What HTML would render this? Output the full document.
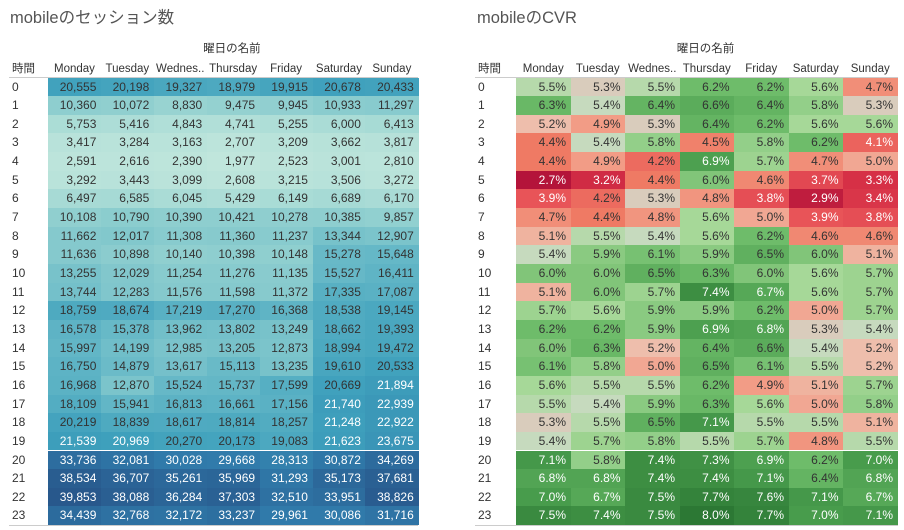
<!DOCTYPE html><html><head><meta charset="utf-8"><style>
body{margin:0;width:904px;height:530px;background:#fff;position:relative;overflow:hidden;font-family:"Liberation Sans","Noto Sans CJK JP",sans-serif;color:#333}
.a{position:absolute;white-space:nowrap}
.t{font-size:16.5px;color:#555;top:8px;line-height:20px}
.h{font-size:11.5px;color:#333;line-height:14px}
.c{font-size:12px;text-align:right;box-sizing:border-box;padding-right:5px;line-height:18.65px;height:18.65px}
</style></head><body>
<div class="a t" style="left:10px">mobileのセッション数</div>
<div class="a t" style="left:477px">mobileのCVR</div>
<div id="r"></div>
<script>
const S=[[20555,20198,19327,18979,19915,20678,20433],[10360,10072,8830,9475,9945,10933,11297],[5753,5416,4843,4741,5255,6000,6413],[3417,3284,3163,2707,3209,3662,3817],[2591,2616,2390,1977,2523,3001,2810],[3292,3443,3099,2608,3215,3506,3272],[6497,6585,6045,5429,6149,6689,6170],[10108,10790,10390,10421,10278,10385,9857],[11662,12017,11308,11360,11237,13344,12907],[11636,10898,10140,10398,10148,15278,15648],[13255,12029,11254,11276,11135,15527,16411],[13744,12283,11576,11598,11372,17335,17087],[18759,18674,17219,17270,16368,18538,19145],[16578,15378,13962,13802,13249,18662,19393],[15997,14199,12985,13205,12873,18994,19472],[16750,14879,13617,15113,13235,19610,20533],[16968,12870,15524,15737,17599,20669,21894],[18109,15941,16813,16661,17156,21740,22939],[20219,18839,18617,18814,18257,21248,22922],[21539,20969,20270,20173,19083,21623,23675],[33736,32081,30028,29668,28313,30872,34269],[38534,36707,35261,35969,31293,35173,37681],[39853,38088,36284,37303,32510,33951,38826],[34439,32768,32172,33237,29961,30086,31716]];
const C=[[5.5,5.3,5.5,6.2,6.2,5.6,4.7],[6.3,5.4,6.4,6.6,6.4,5.8,5.3],[5.2,4.9,5.3,6.4,6.2,5.6,5.6],[4.4,5.4,5.8,4.5,5.8,6.2,4.1],[4.4,4.9,4.2,6.9,5.7,4.7,5.0],[2.7,3.2,4.4,6.0,4.6,3.7,3.3],[3.9,4.2,5.3,4.8,3.8,2.9,3.4],[4.7,4.4,4.8,5.6,5.0,3.9,3.8],[5.1,5.5,5.4,5.6,6.2,4.6,4.6],[5.4,5.9,6.1,5.9,6.5,6.0,5.1],[6.0,6.0,6.5,6.3,6.0,5.6,5.7],[5.1,6.0,5.7,7.4,6.7,5.6,5.7],[5.7,5.6,5.9,5.9,6.2,5.0,5.7],[6.2,6.2,5.9,6.9,6.8,5.3,5.4],[6.0,6.3,5.2,6.4,6.6,5.4,5.2],[6.1,5.8,5.0,6.5,6.1,5.5,5.2],[5.6,5.5,5.5,6.2,4.9,5.1,5.7],[5.5,5.4,5.9,6.3,5.6,5.0,5.8],[5.3,5.5,6.5,7.1,5.5,5.5,5.1],[5.4,5.7,5.8,5.5,5.7,4.8,5.5],[7.1,5.8,7.4,7.3,6.9,6.2,7.0],[6.8,6.8,7.4,7.4,7.1,6.4,6.8],[7.0,6.7,7.5,7.7,7.6,7.1,6.7],[7.5,7.4,7.5,8.0,7.7,7.0,7.1]];
function lerp(st,v){for(let i=0;i<st.length-1;i++){const[a,ca]=st[i],[b,cb]=st[i+1];if(v<=b||i==st.length-2){let t=Math.max(0,Math.min(1,(v-a)/(b-a)));return 'rgb('+ca.map((x,k)=>Math.round(x+(cb[k]-x)*t)).join(',')+')';}}}
const SS=[[1900,[192,230,220]],[6000,[170,220,214]],[11000,[138,204,206]],[16000,[98,182,198]],[21000,[62,160,188]],[30000,[48,122,170]],[40000,[40,88,140]]];
const CS=[[2.7,[180,20,58]],[3.3,[214,48,70]],[3.9,[232,84,88]],[4.4,[239,122,100]],[4.9,[242,156,134]],[5.2,[238,190,172]],[5.3,[217,204,188]],[5.4,[198,218,190]],[5.6,[166,216,152]],[6.2,[110,188,106]],[7.0,[72,156,76]],[8.0,[44,120,52]]];
const days=["Monday","Tuesday","Wednes..","Thursday","Friday","Saturday","Sunday"];
let h='';const rh=18.65,y0=77.5;
function table(x0,cw,lx,fn){
 h+=`<div class="a h" style="left:${x0+cw*3.5-30}px;top:42px">曜日の名前</div>`;
 h+=`<div class="a h" style="left:${lx}px;top:62px">時間</div>`;
 days.forEach((d,i)=>h+=`<div class="a h" style="left:${x0+cw*i}px;width:${cw}px;text-align:center;top:62px">${d}</div>`);
 h+=`<div class="a" style="left:${lx-3}px;top:77px;width:${x0+cw*7-lx+3}px;height:1px;background:#ccc"></div>`;
 h+=`<div class="a" style="left:${lx-3}px;top:525px;width:${x0+cw*7-lx+3}px;height:1px;background:#ccc"></div>`;
 for(let r=0;r<24;r++){h+=`<div class="a c" style="left:${lx}px;top:${y0+r*rh}px;text-align:left;font-size:12px">${r}</div>`;
  for(let c=0;c<7;c++){const[bg,fg,tx]=fn(r,c);h+=`<div class="a c" style="left:${x0+cw*c}px;top:${y0+r*rh}px;width:${cw+0.5}px;background:${bg};color:${fg}">${tx}</div>`;}}
}
table(48,52.9,12,(r,c)=>{const v=S[r][c];return[lerp(SS,v),v>20800?'#fff':'#333',v.toLocaleString('en-US')]});
table(516,54.5,478,(r,c)=>{const v=C[r][c];return[lerp(CS,v),(v<=4.1||v>=6.7)?'#fff':'#333',v.toFixed(1)+'%']});
document.getElementById('r').innerHTML=h;
</script></body></html>
